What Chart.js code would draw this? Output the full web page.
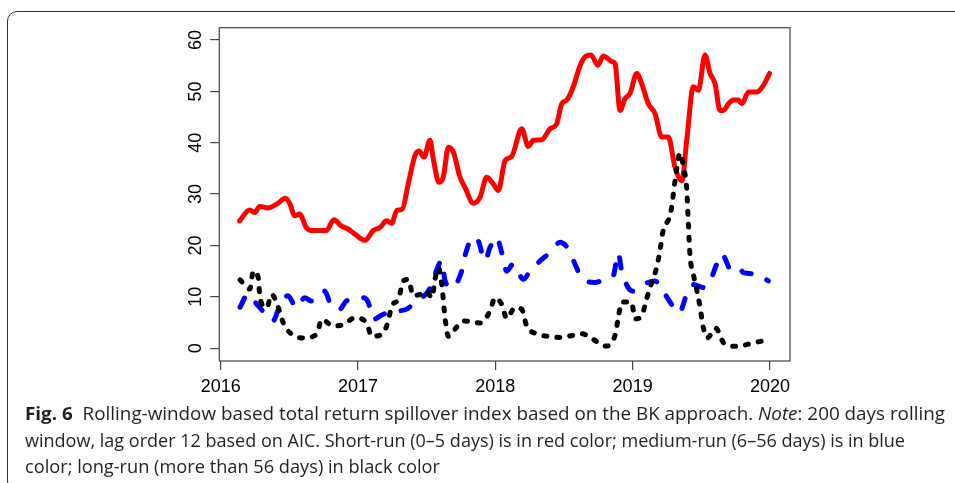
<!DOCTYPE html>
<html><head><meta charset="utf-8">
<script src="https://cdn.jsdelivr.net/npm/chart.js@4"></script>
<style>
html,body{margin:0;padding:0;background:#fff;width:955px;height:483px;overflow:hidden;position:relative}
#frame{position:absolute;left:7px;top:11px;width:1000px;height:480px;border:1px solid #333;border-radius:10px 0 0 10px;box-sizing:border-box}
#c{position:absolute;left:0;top:0}
.cap{position:absolute;left:25px;font-family:"Open Sans",sans-serif;font-size:18px;line-height:24px;color:#231f20;white-space:nowrap;transform-origin:0 0}
</style></head><body>
<div id="frame"></div>
<canvas id="c" width="955" height="483"></canvas>
<div class="cap" id="l1" style="top:401px"><b>Fig. 6</b>&nbsp; Rolling-window based total return spillover index based on the BK approach. <i>Note</i>: 200 days rolling</div>
<div class="cap" id="l2" style="top:428px">window, lag order 12 based on AIC. Short-run (0–5 days) is in red color; medium-run (6–56 days) is in blue</div>
<div class="cap" id="l3" style="top:454px">color; long-run (more than 56 days) in black color</div>
<script>
const xTicks = [2016, 2017, 2018, 2019, 2020];
const yTicks = [0, 10, 20, 30, 40, 50, 60];

const redYears = [2016.138,2016.211,2016.248,2016.284,2016.344,2016.417,2016.470,2016.503,2016.539,2016.575,2016.623,2016.660,2016.769,2016.825,2016.878,2016.927,2016.978,2017.051,2017.111,2017.160,2017.209,2017.245,2017.282,2017.323,2017.366,2017.415,2017.444,2017.481,2017.524,2017.548,2017.590,2017.621,2017.658,2017.694,2017.743,2017.779,2017.840,2017.889,2017.937,2017.985,2018.022,2018.071,2018.119,2018.192,2018.240,2018.277,2018.338,2018.398,2018.447,2018.484,2018.520,2018.568,2018.617,2018.653,2018.697,2018.746,2018.787,2018.848,2018.872,2018.908,2018.945,2018.981,2019.030,2019.066,2019.114,2019.163,2019.212,2019.260,2019.309,2019.358,2019.394,2019.442,2019.479,2019.527,2019.564,2019.600,2019.636,2019.661,2019.698,2019.734,2019.770,2019.795,2019.844,2019.905,2019.953,2019.997];
const redValues = [24.8,26.9,26.4,27.6,27.3,28.2,29.2,28.2,25.8,26.1,23.5,22.9,22.9,25.0,23.8,23.2,22.2,21.0,22.9,23.5,24.8,24.3,26.8,27.1,32.0,37.5,38.4,37.2,40.5,36.9,32.3,33.3,39.1,38.2,33.3,31.3,28.2,29.4,33.3,32.0,30.7,36.5,37.3,42.7,39.3,40.5,40.6,42.7,43.7,47.6,48.3,50.9,55.0,56.7,57.1,55.1,56.9,55.8,55.4,46.3,48.6,49.6,53.5,51.5,47.6,45.7,41.1,41.1,35.2,32.6,40.5,50.9,50.2,57.1,53.5,51.5,46.3,46.3,47.6,48.3,48.3,47.6,49.9,49.9,51.2,53.5];

const blueYears = [2016.141,2016.199,2016.259,2016.308,2016.381,2016.430,2016.490,2016.551,2016.612,2016.660,2016.757,2016.806,2016.867,2016.915,2016.978,2017.039,2017.075,2017.111,2017.184,2017.282,2017.355,2017.439,2017.512,2017.561,2017.610,2017.634,2017.682,2017.755,2017.779,2017.840,2017.876,2017.925,2017.961,2018.010,2018.047,2018.083,2018.131,2018.204,2018.253,2018.326,2018.398,2018.471,2018.532,2018.580,2018.629,2018.726,2018.799,2018.859,2018.896,2018.920,2018.968,2019.005,2019.041,2019.163,2019.212,2019.285,2019.340,2019.394,2019.442,2019.515,2019.564,2019.613,2019.649,2019.722,2019.782,2019.806,2019.904,2019.988];
const blueValues = [8.0,10.5,8.7,7.2,5.3,8.2,10.2,7.9,9.8,9.2,11.1,8.2,7.6,9.2,9.5,9.8,8.9,5.6,6.6,7.2,7.6,9.5,11.1,14.4,17.0,13.1,11.8,15.0,18.0,21.6,20.9,17.0,19.6,21.6,18.6,15.0,16.4,13.4,15.0,17.0,18.6,20.6,19.3,16.4,13.7,12.8,13.4,14.1,18.5,15.0,11.8,11.1,11.8,13.1,11.5,8.5,6.9,10.5,12.4,11.8,13.1,16.4,18.3,15.0,15.4,14.7,14.4,13.1];

const blackYears = [2016.141,2016.213,2016.237,2016.274,2016.286,2016.335,2016.371,2016.420,2016.456,2016.517,2016.602,2016.699,2016.736,2016.820,2016.893,2016.978,2017.063,2017.100,2017.173,2017.221,2017.245,2017.294,2017.330,2017.366,2017.403,2017.452,2017.500,2017.537,2017.561,2017.585,2017.610,2017.634,2017.658,2017.706,2017.767,2017.889,2017.961,2017.998,2018.047,2018.083,2018.143,2018.192,2018.229,2018.302,2018.386,2018.471,2018.568,2018.629,2018.714,2018.799,2018.872,2018.896,2018.920,2018.993,2019.017,2019.066,2019.102,2019.139,2019.175,2019.200,2019.219,2019.278,2019.309,2019.346,2019.370,2019.394,2019.405,2019.418,2019.442,2019.467,2019.492,2019.511,2019.543,2019.605,2019.667,2019.764,2019.873,2019.988];
const blackValues = [13.3,11.5,15.0,13.7,9.8,7.9,10.5,7.9,4.9,2.7,2.0,2.7,5.6,4.3,4.6,5.9,4.9,2.3,2.7,5.3,8.2,9.5,13.1,13.4,10.2,10.5,11.1,9.8,13.4,15.7,12.4,5.9,2.3,3.7,5.3,4.9,7.2,9.8,8.5,5.8,7.9,7.6,4.3,2.8,2.3,2.1,2.5,2.8,1.7,0.4,2.5,6.0,9.0,8.9,5.7,6.3,9.6,12.8,15.7,19.2,22.5,26.5,32.6,38.0,35.2,31.0,24.7,18.0,14.4,11.3,7.9,4.5,2.0,3.9,0.9,0.35,1.0,1.6];

function pts(xs, ys){ return xs.map((x,i)=>({x:x, y:ys[i]})); }

const boxPlugin = {
  id:'boxAndLabels',
  afterDraw(chart){
    const c = chart.ctx, a = chart.chartArea, ys = chart.scales.y;
    c.save();
    c.strokeStyle = '#444'; c.lineWidth = 1.2;
    c.strokeRect(a.left, a.top, a.right - a.left, a.bottom - a.top);
    c.fillStyle = '#000';
    c.font = '18px "Liberation Sans", Arial, sans-serif';
    c.textAlign = 'center'; c.textBaseline = 'alphabetic';
    yTicks.forEach(v=>{
      const y = ys.getPixelForValue(v);
      c.save(); c.translate(201, y); c.rotate(-Math.PI/2); c.fillText(String(v), 0, 0); c.restore();
    });
    c.restore();
  }
};

new Chart(document.getElementById('c'), {
  type:'line',
  data:{datasets:[
    {label:'Short-run', data:pts(redYears, redValues), borderColor:'#ff0000', borderWidth:5, pointRadius:0, cubicInterpolationMode:'monotone', borderCapStyle:'round', borderJoinStyle:'round', order:3},
    {label:'Medium-run', data:pts(blueYears, blueValues), borderColor:'#0000ff', borderWidth:5, pointRadius:0, cubicInterpolationMode:'monotone', borderCapStyle:'round', borderJoinStyle:'round', borderDash:[10,17], order:2},
    {label:'Long-run', data:pts(blackYears, blackValues), borderColor:'#000000', borderWidth:5, pointRadius:0, cubicInterpolationMode:'monotone', borderCapStyle:'round', borderJoinStyle:'round', borderDash:[3,10], order:1}
  ]},
  options:{
    responsive:false, animation:false, devicePixelRatio:1,
    layout:{padding:{left:210.3, right:165, top:27.7, bottom:79.4}},
    plugins:{legend:{display:false}, tooltip:{enabled:false}},
    scales:{
      x:{type:'linear', min:2015.99, max:2020.146,
         afterBuildTicks:s=>{ s.ticks = xTicks.map(v=>({value:v})); },
         ticks:{font:{family:'"Liberation Sans", Arial, sans-serif', size:18}, color:'#000', padding:6, maxRotation:0, autoSkip:false, callback:v=>String(v)},
         grid:{drawOnChartArea:false, tickLength:9, color:'#444', lineWidth:1.2}, border:{display:false}},
      y:{type:'linear', min:-2.5, max:62.4,
         afterBuildTicks:s=>{ s.ticks = yTicks.map(v=>({value:v})); },
         ticks:{display:false},
         grid:{drawOnChartArea:false, tickLength:9, color:'#444', lineWidth:1.2}, border:{display:false}}
    }
  },
  plugins:[boxPlugin]
});

function fitCaps(){
  const targets = {l1:920, l2:880, l3:415};
  Object.keys(targets).forEach(id=>{
    const el = document.getElementById(id);
    el.style.transform = 'none';
    const w = el.getBoundingClientRect().width;
    el.style.transform = 'scaleX(' + (targets[id]/w) + ')';
  });
}
fitCaps();
if (document.fonts && document.fonts.ready) document.fonts.ready.then(fitCaps);
</script>
</body></html>
